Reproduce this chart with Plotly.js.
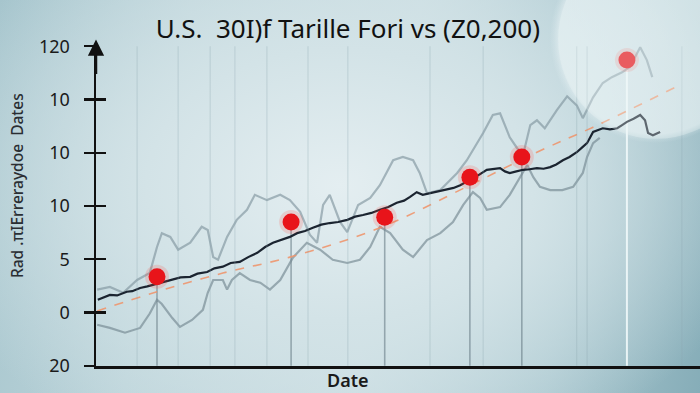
<!DOCTYPE html>
<html>
<head>
<meta charset="utf-8">
<script src="https://cdn.plot.ly/plotly-3.0.1.min.js"></script>
<style>
  html, body { margin: 0; padding: 0; }
  #chart {
    width: 700px; height: 393px;
    background:
      radial-gradient(circle 104px at 655px 38px, rgba(238,246,248,0.55) 0, rgba(238,246,248,0.5) 96px, rgba(238,246,248,0.18) 101px, rgba(238,246,248,0) 105px),
      radial-gradient(ellipse 430px 300px at 340px 185px, #e4eef1 0%, #d3e3e7 45%, rgba(205,223,228,0) 100%),
      linear-gradient(100deg, #a6c5cd 0%, #bcd4da 25%, #c8dce1 55%, #a9c7cf 80%, #86adb8 100%);
  }
</style>
</head>
<body>
<div id="chart"></div>
<script>
// ---- data ----
const yTickVals = [0, 10, 20, 30, 40, 50, 60];
const yTickText = ['20', '0', '5', '10', '10', '10', '120'];

const mainX = [0.3,1.3,2.3,3.5,5.1,6.0,7.3,8.5,10.1,11.2,12.7,14.0,15.6,16.8,18.4,19.6,21.0,22.3,23.8,25.2,26.7,28.0,29.3,30.7,32.1,33.3,34.6,35.9,37.3,38.7,40.1,41.6,42.9,44.2,45.6,47.0,48.4,49.8,51.0,52.0,53.1,54.1,55.3,56.5,58.1,59.2,60.3,61.9,63.2,64.7,65.8,66.9,67.7,68.5,69.6,70.7,71.8,73.0,74.1,75.2,76.2,77.3,78.4,79.6,80.5,81.3,82.3,83.1,83.9,85.1,86.3,87.1,87.9,89.0,90.1,90.9,91.4,92.2,93.4];
const mainY = [12.4,12.9,13.3,13.2,13.9,14.0,14.6,14.9,15.4,15.6,16.1,16.6,16.7,17.3,17.6,18.3,18.6,19.3,19.5,20.4,21.2,22.3,23.1,23.6,24.2,24.9,25.3,25.9,26.5,26.8,27.0,27.4,28.0,28.3,28.7,29.3,29.8,30.6,31.0,31.7,32.6,32.1,32.4,32.6,33.0,33.4,33.9,34.9,35.7,36.8,36.9,37.1,36.5,36.2,36.5,36.8,36.9,37.1,37.0,37.3,37.8,38.6,39.2,40.1,41.0,41.8,43.9,44.2,44.6,44.4,44.6,45.2,45.8,46.4,47.1,46.1,43.7,43.3,43.9];

const upperX = [0.2,2.3,4.5,6.8,8.9,10.1,10.9,12.3,13.6,15.6,17.5,18.5,19.4,20.2,21.7,23.3,25.0,26.3,28.3,30.5,32.1,33.8,35.4,36.6,37.6,38.7,40.4,41.6,43.4,45.4,47.0,49.2,50.8,52.5,53.6,54.8,57.0,59.8,61.4,63.1,64.1,65.7,66.9,68.5,69.7,70.7,71.9,73.0,74.3,76.3,78.0,79.6,80.6,82.3,83.9,85.4,87.1,88.4,90.1,91.2,92.1];
const upperY = [14.3,14.8,13.7,16.1,17.4,22.3,24.9,24.2,21.8,23.1,26.1,25.5,20.4,19.9,24.2,27.4,29.3,32.1,31.1,32.1,31.1,28.9,24.6,23.1,30.2,32.1,27.0,25.1,30.2,31.5,33.9,38.6,39.2,38.6,36.2,32.4,33.0,36.2,38.6,41.8,43.7,47.1,47.4,42.9,40.9,39.6,45.2,46.1,44.6,48.0,50.6,48.9,46.5,50.4,53.1,54.2,55.1,56.1,59.8,57.4,54.2];

const lowerX = [0.2,2.3,4.8,7.3,8.9,10.1,10.9,12.6,13.9,15.9,17.7,18.5,19.4,21.0,21.7,22.5,23.8,25.5,27.2,28.8,30.5,32.6,34.9,37.1,39.2,41.6,43.7,45.4,47.0,48.7,50.8,52.5,54.8,57.0,59.1,60.8,62.4,63.6,64.7,66.9,68.5,70.2,71.4,72.4,73.5,75.2,77.2,79.0,80.6,81.3,82.3,83.4];
const lowerY = [7.7,7.1,6.2,7.1,9.8,12.4,11.6,9.0,7.3,8.6,10.5,13.7,16.1,16.1,14.3,16.1,17.4,16.1,15.6,14.3,16.1,20.3,23.1,21.8,19.9,19.3,19.9,22.3,26.1,24.9,21.8,20.4,23.6,24.9,27.0,30.2,32.6,31.5,29.3,29.8,32.1,35.3,37.7,35.4,33.6,33.0,33.0,33.6,36.2,39.2,41.8,42.8];

const trendX = [0.2,10.1,21.0,32.1,47.0,61.9,73.0,82.3,95.9];
const trendY = [10.3,13.9,17.4,20.4,25.9,33.9,40.1,44.8,52.3];

const dotX = [10.1,32.3,47.8,61.9,70.5,87.9];
const dotY = [16.7,27.0,27.9,35.4,39.2,57.4];

const bgLineX = [6.8,13.6,18.9,23.0,28.3,35.1,41.7,55.3,64.1,79.6,81.3,97.0];

// ---- build traces ----
function verticals(xs, tops) {
  const x = [], y = [];
  xs.forEach((v, i) => { x.push(v, v, null); y.push(0, tops[i], null); });
  return {x, y};
}
const bg = verticals(bgLineX, bgLineX.map(() => 60));
const dropDark = verticals(dotX.slice(0, 5), dotY.slice(0, 5));
const dropLight = verticals(dotX.slice(5), dotY.slice(5));

const traces = [
  {x: bg.x, y: bg.y, yaxis: 'y2', mode: 'lines', line: {color: 'rgba(140,165,175,0.35)', width: 1}, hoverinfo: 'skip'},
  {x: dropDark.x, y: dropDark.y, mode: 'lines', line: {color: 'rgba(105,125,135,0.6)', width: 1.6}, hoverinfo: 'skip'},
  {x: dropLight.x, y: dropLight.y, mode: 'lines', line: {color: 'rgba(240,248,250,0.9)', width: 2}, hoverinfo: 'skip'},
  {x: lowerX, y: lowerY, mode: 'lines', line: {color: 'rgba(115,135,145,0.65)', width: 2.2}},
  {x: upperX, y: upperY, mode: 'lines', line: {color: 'rgba(125,145,155,0.62)', width: 2.2}},
  {x: trendX, y: trendY, mode: 'lines', line: {color: 'rgba(238,150,110,0.9)', width: 1.6, dash: 'dash', shape: 'spline'}},
  {x: mainX, y: mainY, mode: 'lines', line: {color: '#1b2430', width: 2.2}},
  {x: dotX, y: dotY, mode: 'markers', marker: {color: 'rgba(255,70,60,0.18)', size: 24}, hoverinfo: 'skip'},
  {x: dotX, y: dotY, mode: 'markers', marker: {color: '#e8141a', size: 17, line: {width: 0}}}
];

const layout = {
  width: 700, height: 393,
  margin: {l: 96, r: 0, t: 46, b: 27},
  paper_bgcolor: 'rgba(0,0,0,0)',
  plot_bgcolor: 'rgba(0,0,0,0)',
  showlegend: false,
  title: {
    text: 'U.S.  30I)f Tarille Fori vs (Z0,200)',
    font: {family: 'Noto Sans, Open Sans, sans-serif', size: 26, color: '#111'},
    xref: 'container', x: 0.497, xanchor: 'center',
    yref: 'container', y: 0.927, yanchor: 'middle'
  },
  xaxis: {
    range: [0, 100], showgrid: false, zeroline: false,
    showline: true, linecolor: '#111', linewidth: 2.5,
    ticks: '', showticklabels: false, fixedrange: true
  },
  yaxis: {
    range: [-0.05, 60.05], showgrid: false, zeroline: false,
    showline: true, linecolor: '#111', linewidth: 2.5,
    tickmode: 'array', tickvals: yTickVals, ticktext: yTickText,
    ticks: 'outside', ticklen: 10, tickwidth: 2.2, tickcolor: '#111',
    ticklabelstandoff: 10,
    tickfont: {family: 'Noto Sans, Open Sans, sans-serif', size: 18, color: '#1a1a1a'}
  },
  yaxis2: {
    overlaying: 'y', anchor: 'x', side: 'left',
    range: [-0.05, 60.05], showgrid: false, zeroline: false, showline: false,
    tickmode: 'array', tickvals: yTickVals,
    ticks: 'inside', ticklen: 10, tickwidth: 2.2, tickcolor: '#111',
    showticklabels: false
  },
  shapes: [
    {type: 'circle', xref: 'paper', yref: 'paper', x0: 0.765, x1: 1.09, y0: 0.71, y1: 1.33,
     fillcolor: 'rgba(236,245,247,0.32)', line: {width: 0}, layer: 'above'}
  ],
  annotations: [
    {xref: 'paper', yref: 'paper', x: 0, y: 1.02, text: '', showarrow: true,
     ax: 0, ay: 36, arrowhead: 2, arrowsize: 1.3, arrowwidth: 2.5, arrowcolor: '#111'},
    {xref: 'paper', yref: 'paper', x: -0.131, y: 0.565, xanchor: 'center', yanchor: 'middle',
     textangle: -90, showarrow: false, text: 'Rad .πIErreraydoe  Dates',
     font: {family: 'Noto Sans, Open Sans, sans-serif', size: 15.5, color: '#2a2e33', weight: 500}},
    {xref: 'paper', yref: 'paper', x: 0.417, y: -0.045, xanchor: 'center', yanchor: 'middle',
     showarrow: false, text: 'Date',
     font: {family: 'Noto Sans, Open Sans, sans-serif', size: 18, color: '#1a1a1a', weight: 600}}
  ]
};

Plotly.newPlot('chart', traces, layout, {displayModeBar: false, staticPlot: true});
</script>
</body>
</html>
